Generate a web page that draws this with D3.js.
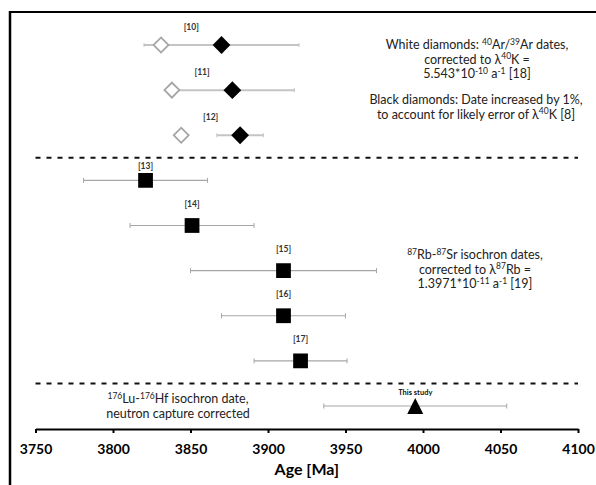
<!DOCTYPE html>
<html>
<head>
<meta charset="utf-8">
<script src="https://cdnjs.cloudflare.com/ajax/libs/d3/7.8.5/d3.min.js"></script>
<style>
body { margin: 0; background: #fff; }
text { font-family: Lato, "Noto Sans", sans-serif; }
</style>
</head>
<body>
<div id="chart"></div>
<script>
var width = 596
var height = 485

// 40Ar/39Ar dates (diamonds)
var arRefs = ["[10]", "[11]", "[12]"]
var arWhite = [3831, 3838, 3844]
var arBlack = [3870, 3877, 3882]
var arErr = [50, 40, 15]

// 87Rb-87Sr isochron dates (squares)
var rbRefs = ["[13]", "[14]", "[15]", "[16]", "[17]"]
var rbAge = [3821, 3851, 3910, 3910, 3921]
var rbErr = [40, 40, 60, 40, 30]

// 176Lu-176Hf (this study)
var luRefs = ["This study"]
var luAge = [3995]
var luErr = [59]

var xTicks = [3750, 3800, 3850, 3900, 3950, 4000, 4050, 4100]

var svg = d3.select("#chart")
    .append("svg")
        .attr("width", width)
        .attr("height", height)

var x = d3.scaleLinear()
    .domain([3750, 4100])
    .range([35.5, 578])

var rows = d3.range(arRefs.length + rbRefs.length + luRefs.length)
var y = d3.scalePoint()
    .domain(rows)
    .range([45, 406])

// frame
svg.append("line")
    .attr("x1", 9).attr("x2", width)
    .attr("y1", 12).attr("y2", 12)
    .attr("stroke", "#000").attr("stroke-width", 2)
svg.append("line")
    .attr("x1", 10).attr("x2", 10)
    .attr("y1", 11).attr("y2", height)
    .attr("stroke", "#000").attr("stroke-width", 2.5)

// separators between the methods
var sepRows = [arRefs.length - 0.5, arRefs.length + rbRefs.length - 0.5]
var rowY = d3.scaleLinear().domain([0, rows.length - 1]).range(y.range())
svg.selectAll(".sep")
    .data(sepRows)
    .enter()
    .append("line")
        .attr("class", "sep")
        .attr("x1", x(3750)).attr("x2", x(4100))
        .attr("y1", function(d){ return rowY(d) })
        .attr("y2", function(d){ return rowY(d) })
        .attr("stroke", "#111")
        .attr("stroke-width", 2)
        .attr("stroke-dasharray", "5,6")

// error bars
function errorBars(ages, errs, offset, color, w, cap){
    var g = svg.append("g")
    ages.forEach(function(a, i){
        var yy = y(i + offset)
        g.append("line")
            .attr("x1", x(a - errs[i])).attr("x2", x(a + errs[i]))
            .attr("y1", yy).attr("y2", yy)
            .attr("stroke", color).attr("stroke-width", w)
        ;[a - errs[i], a + errs[i]].forEach(function(e){
            g.append("line")
                .attr("x1", x(e)).attr("x2", x(e))
                .attr("y1", yy - cap).attr("y2", yy + cap)
                .attr("stroke", color).attr("stroke-width", 1)
        })
    })
}
errorBars(arBlack, arErr, 0, "#c4c4c4", 2, 2)
errorBars(rbAge, rbErr, arRefs.length, "#a6a6a6", 1.2, 2.5)
errorBars(luAge, luErr, arRefs.length + rbRefs.length, "#a6a6a6", 1.2, 2.5)

// diamonds
var sq = d3.symbol().type(d3.symbolSquare)
svg.selectAll(".white")
    .data(arWhite)
    .enter()
    .append("path")
        .attr("class", "white")
        .attr("d", sq.size(112)())
        .attr("transform", function(d, i){ return "translate(" + x(d) + "," + y(i) + ") rotate(45)" })
        .attr("fill", "#fff")
        .attr("stroke", "#a6a6a6")
        .attr("stroke-width", 1.8)
svg.selectAll(".black")
    .data(arBlack)
    .enter()
    .append("path")
        .attr("class", "black")
        .attr("d", sq.size(158)())
        .attr("transform", function(d, i){ return "translate(" + x(d) + "," + y(i) + ") rotate(45)" })
        .attr("fill", "#000")

// squares
svg.selectAll(".rb")
    .data(rbAge)
    .enter()
    .append("path")
        .attr("class", "rb")
        .attr("d", sq.size(218)())
        .attr("transform", function(d, i){ return "translate(" + x(d) + "," + y(i + arRefs.length) + ")" })
        .attr("fill", "#000")

// triangle
var tri = { draw: function(ctx, size){
    var h = Math.sqrt(size)
    ctx.moveTo(0, -h / 2)
    ctx.lineTo(h / 2, h / 2)
    ctx.lineTo(-h / 2, h / 2)
    ctx.closePath()
}}
svg.selectAll(".lu")
    .data(luAge)
    .enter()
    .append("path")
        .attr("class", "lu")
        .attr("d", d3.symbol().type(tri).size(256)())
        .attr("transform", function(d, i){ return "translate(" + x(d) + "," + y(i + arRefs.length + rbRefs.length) + ")" })
        .attr("fill", "#000")

// reference labels
svg.selectAll(".arRef")
    .data(arRefs)
    .enter()
    .append("text")
        .attr("x", function(d, i){ return x((arWhite[i] + arBlack[i]) / 2) })
        .attr("y", function(d, i){ return y(i) - 18 })
        .attr("dy", "0.35em")
        .attr("text-anchor", "middle")
        .attr("font-size", 8.5).attr("font-weight", "bold").attr("fill", "#333")
        .text(function(d){ return d })
svg.selectAll(".rbRef")
    .data(rbRefs)
    .enter()
    .append("text")
        .attr("x", function(d, i){ return x(rbAge[i]) })
        .attr("y", function(d, i){ return y(i + arRefs.length) - (i === 0 ? 14 : 21.5) })
        .attr("dy", "0.35em")
        .attr("text-anchor", "middle")
        .attr("font-size", 8.5).attr("font-weight", "bold").attr("fill", "#333")
        .text(function(d){ return d })
svg.selectAll(".luRef")
    .data(luRefs)
    .enter()
    .append("text")
        .attr("x", function(d, i){ return x(luAge[i]) })
        .attr("y", function(d, i){ return y(i + arRefs.length + rbRefs.length) - 14 })
        .attr("dy", "0.35em")
        .attr("text-anchor", "middle")
        .attr("font-size", 7.5).attr("font-weight", "bold").attr("fill", "#111")
        .text(function(d){ return d })

// annotations, pieces marked "^" are superscripts
function note(cx, cy, lines){
    var t = svg.append("text")
        .attr("text-anchor", "middle")
        .attr("font-size", 12.5)
        .attr("fill", "#222")
    lines.forEach(function(line, li){
        var first = true
        var up = false
        line.forEach(function(p){
            var sup = p.charAt(0) === "^"
            var s = t.append("tspan").text(sup ? p.slice(1) : p)
            if(first){ s.attr("x", cx).attr("y", cy + li * 14.7) }
            if(sup){ s.attr("font-size", 8.5) }
            if(sup && !up){ s.attr("dy", -4.5) }
            if(!sup && up){ s.attr("dy", 4.5) }
            if(first && sup){ s.attr("y", cy + li * 14.7 - 4.5).attr("dy", null) }
            up = sup
            first = false
        })
    })
}
note(477, 49, [
    ["White diamonds: ", "^40", "Ar/", "^39", "Ar dates,"],
    ["corrected to \u03bb", "^40", "K ="],
    ["5.543*10", "^-10", " a", "^-1", " [18]"]
])
note(476, 104, [
    ["Black diamonds: Date increased by 1%,"],
    ["to account for likely error of \u03bb", "^40", "K [8]"]
])
note(475, 259, [
    ["^87", "Rb-", "^87", "Sr isochron dates,"],
    ["corrected to \u03bb", "^87", "Rb ="],
    ["1.3971*10", "^-11", " a", "^-1", " [19]"]
])
note(178, 403, [
    ["^176", "Lu-", "^176", "Hf isochron date,"],
    ["neutron capture corrected"]
])

// axis
var axis = svg.append("g")
    .attr("transform", "translate(0," + 429 + ")")
    .call(d3.axisBottom(x)
        .tickValues(xTicks)
        .tickSize(4)
        .tickSizeOuter(0)
        .tickPadding(11)
        .tickFormat(d3.format("d")))
axis.select(".domain").attr("stroke", "#000").attr("stroke-width", 2)
axis.selectAll(".tick line").attr("stroke", "#000").attr("stroke-width", 2)
axis.selectAll(".tick text")
    .attr("font-family", "Lato, sans-serif")
    .attr("font-size", 14)
    .attr("font-weight", "bold")
    .attr("fill", "#000")

svg.append("text")
    .attr("x", (x(3750) + x(4100)) / 2)
    .attr("y", 475)
    .attr("text-anchor", "middle")
    .attr("font-size", 16)
    .attr("font-weight", "bold")
    .attr("fill", "#000")
    .text("Age [Ma]")
</script>
</body>
</html>
